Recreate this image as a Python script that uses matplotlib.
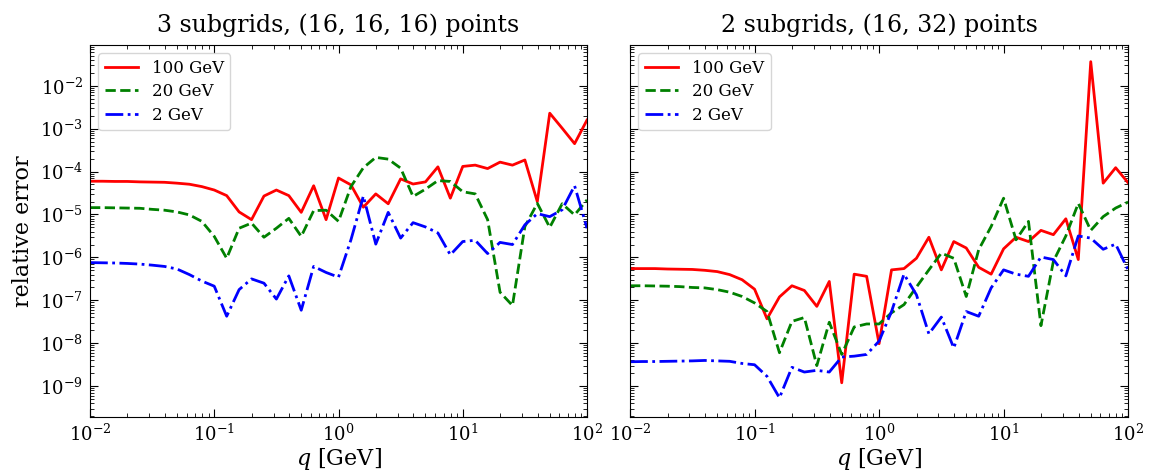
import numpy as np
import matplotlib
matplotlib.use("Agg")
import matplotlib.pyplot as plt

plt.rcParams['font.family'] = 'DejaVu Serif'
plt.rcParams['mathtext.fontset'] = 'dejavuserif'
plt.rcParams['axes.formatter.use_mathtext'] = True

# q grid: 41 points, 0.1 decade apart, from 1e-2 to 1e2
q_exp = np.linspace(-2, 2, 41)

labels = ["100 GeV", "20 GeV", "2 GeV"]
colors = ["red", "green", "blue"]
styles = ["-", "--", "-."]

# log10(relative error)
left_100 = [-4.225, -4.225, -4.23, -4.23, -4.24, -4.245, -4.25, -4.27, -4.295, -4.35,
            -4.43, -4.56, -4.94, -5.12, -4.57, -4.43, -4.56, -4.95, -4.33, -5.12,
            -4.15, -4.31, -4.83, -4.52, -4.75, -4.17, -4.29, -4.24, -3.89, -4.62,
            -3.88, -3.85, -3.93, -3.78, -3.85, -3.73, -4.70, -2.64, -2.99, -3.35, -2.80]
left_20 = [-4.84, -4.84, -4.845, -4.85, -4.855, -4.88, -4.90, -4.94, -5.01, -5.16,
           -5.51, -6.02, -5.32, -5.20, -5.53, -5.32, -5.09, -5.51, -4.91, -4.90,
           -5.16, -4.35, -3.91, -3.67, -3.71, -3.92, -4.58, -4.41, -4.21, -4.23,
           -4.47, -4.52, -5.12, -6.81, -7.12, -5.28, -4.74, -5.30, -4.75, -5.01, -4.66]
left_2 = [-6.12, -6.125, -6.13, -6.14, -6.155, -6.18, -6.21, -6.27, -6.40, -6.55,
          -6.67, -7.37, -6.75, -6.50, -6.60, -6.97, -6.43, -7.23, -6.21, -6.35,
          -6.46, -5.59, -4.57, -5.69, -4.95, -5.55, -5.19, -5.29, -5.43, -5.94,
          -5.63, -5.60, -5.91, -5.65, -5.70, -5.24, -4.98, -5.05, -4.89, -4.33, -5.32]

right_100 = [-6.26, -6.26, -6.26, -6.27, -6.275, -6.28, -6.30, -6.33, -6.40, -6.52,
             -6.74, -7.43, -6.92, -6.66, -6.77, -7.14, -6.56, -8.92, -6.39, -6.44,
             -8.01, -6.29, -6.26, -6.02, -5.53, -6.29, -5.63, -5.78, -6.23, -6.39,
             -5.80, -5.53, -5.63, -5.37, -5.47, -5.10, -6.05, -1.44, -4.27, -3.91, -4.26]
right_20 = [-6.66, -6.66, -6.665, -6.67, -6.68, -6.70, -6.71, -6.75, -6.81, -6.91,
            -7.06, -7.26, -8.22, -7.49, -7.40, -8.52, -7.51, -8.26, -7.62, -7.55,
            -7.55, -7.29, -7.10, -6.69, -6.29, -5.90, -6.02, -6.91, -5.82, -5.28,
            -4.62, -5.59, -5.16, -7.59, -6.09, -5.50, -4.74, -5.37, -5.05, -4.85, -4.71]
right_2 = [-8.43, -8.425, -8.425, -8.42, -8.415, -8.41, -8.40, -8.41, -8.42, -8.47,
           -8.50, -8.77, -9.27, -8.56, -8.67, -8.63, -8.67, -8.32, -8.30, -8.26,
           -7.95, -7.26, -6.39, -6.87, -7.78, -7.39, -8.11, -7.26, -7.37, -6.71,
           -6.29, -6.39, -6.44, -5.99, -6.05, -6.43, -5.50, -5.55, -5.81, -5.69, -6.29]

titles = ["3 subgrids, (16, 16, 16) points", "2 subgrids, (16, 32) points"]
panels = [[left_100, left_20, left_2], [right_100, right_20, right_2]]

fig = plt.figure(figsize=(11.51, 4.76), dpi=100)
ax1 = fig.add_axes([0.0782, 0.1246, 0.4318, 0.781])
ax2 = fig.add_axes([0.5474, 0.1246, 0.4327, 0.781], sharey=ax1)

q = 10 ** q_exp
for ax, series, title in zip([ax1, ax2], panels, titles):
    for vals, lab, c, ls in zip(series, labels, colors, styles):
        ax.plot(q, 10 ** np.array(vals), color=c, ls=ls, lw=2, label=lab)
    ax.set_xscale("log")
    ax.set_yscale("log")
    ax.set_xlim(1e-2, 1e2)
    ax.set_ylim(10 ** -9.71, 10 ** -1.05)
    ax.set_title(title, fontsize=17, pad=9)
    ax.set_xlabel(r"$q$ [GeV]", fontsize=16, labelpad=1)
    ax.tick_params(which="both", direction="in", top=True, right=True, labelsize=13)
    ax.tick_params(which="major", length=6, pad=5)
    ax.tick_params(which="minor", length=3)
    ax.yaxis.set_major_locator(matplotlib.ticker.LogLocator(base=10, numticks=20))
    ax.yaxis.set_minor_locator(matplotlib.ticker.LogLocator(base=10, subs=np.arange(2, 10), numticks=20))
    ax.legend(loc="upper left", fontsize=12, handlelength=2.0, labelspacing=0.38)

ax1.set_ylabel("relative error", fontsize=16, labelpad=4)
plt.setp(ax2.get_yticklabels(), visible=False)

fig.savefig("out.png", dpi=100)
